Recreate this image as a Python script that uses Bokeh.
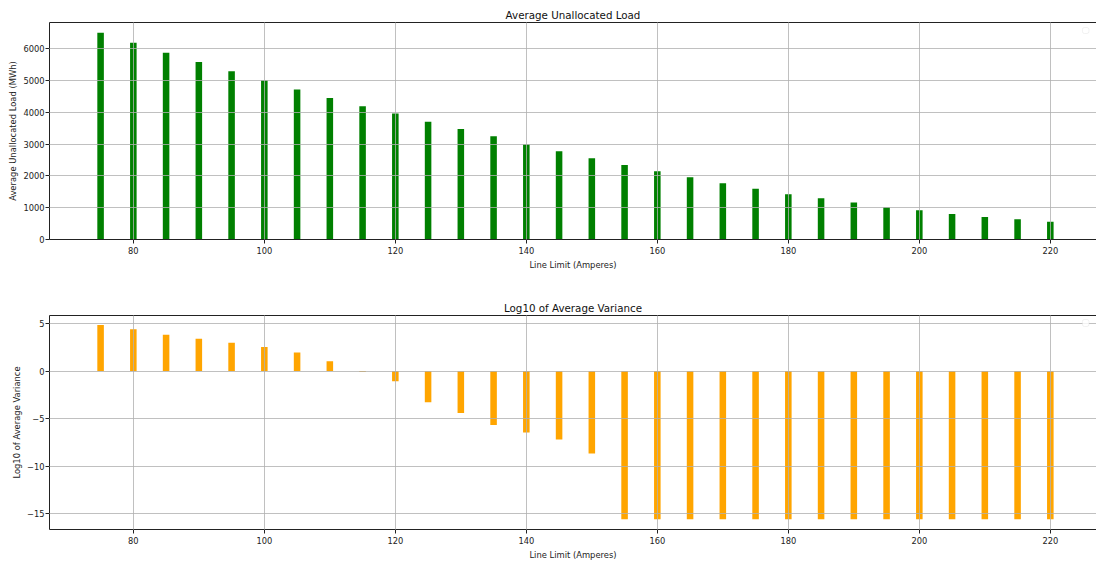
from bokeh.plotting import figure
from bokeh.layouts import column
from bokeh.models import Range1d, FixedTicker, LinearAxis, CustomJSTickFormatter, BoxAnnotation
from bokeh.embed import file_html
from bokeh.resources import INLINE

line_limits = [75, 80, 85, 90, 95, 100, 105, 110, 115, 120, 125, 130, 135, 140, 145,
               150, 155, 160, 165, 170, 175, 180, 185, 190, 195, 200, 205, 210, 215, 220]
avg_unallocated = [6500, 6190, 5875, 5580, 5290, 5005, 4720, 4450, 4190, 3960, 3705, 3475,
                   3245, 2995, 2775, 2555, 2345, 2145, 1960, 1770, 1600, 1425, 1300, 1160,
                   1015, 920, 805, 710, 640, 555]
log10_variance = [4.86, 4.41, 3.83, 3.41, 3.0, 2.55, 1.97, 1.03, -0.1, -1.07, -3.28, -4.41,
                  -5.69, -6.48, -7.2, -8.69, -15.62, -15.62, -15.62, -15.62, -15.62, -15.62,
                  -15.62, -15.62, -15.62, -15.62, -15.62, -15.62, -15.62, -15.62]
x_ticks = [80, 100, 120, 140, 160, 180, 200, 220]
top_yticks = [0, 1000, 2000, 3000, 4000, 5000, 6000]
bottom_yticks = [-15, -10, -5, 0, 5]

FONT = "DejaVu Sans"
TXT = "#222222"
minus_fmt = "return tick < 0 ? '\\u2212' + Math.abs(tick) : String(tick);"


def make_fig(height, top_border, bottom_border, title, ylabel, yr, yticks, values, color,
             legend_box):
    p = figure(width=1096, height=height,
               x_range=Range1d(67.2, 227.05), y_range=Range1d(*yr),
               output_backend="svg", toolbar_location=None,
               min_border_left=49, min_border_right=0,
               min_border_top=top_border, min_border_bottom=bottom_border,
               title=title)
    p.background_fill_color = "white"
    p.border_fill_color = "white"
    p.outline_line_color = None
    p.title.align = "center"
    p.title.offset = 3
    p.title.text_font = FONT
    p.title.text_font_size = "10.3px"
    p.title.text_font_style = "normal"
    p.title.text_color = "#111111"
    p.title.standoff = 4

    p.vbar(x=line_limits, top=values, bottom=0, width=1.0,
           fill_color=color, line_color=None)

    for ax in (p.xaxis, p.yaxis):
        ax.axis_line_color = TXT
        ax.axis_line_width = 1
        ax.major_tick_line_color = TXT
        ax.major_tick_in = 0
        ax.major_tick_out = 4
        ax.minor_tick_line_color = None
        ax.major_label_text_font = FONT
        ax.major_label_text_font_size = "8.3px"
        ax.major_label_text_color = TXT
        ax.axis_label_text_font = FONT
        ax.axis_label_text_font_size = "8.4px"
        ax.axis_label_text_font_style = "normal"
        ax.axis_label_text_color = TXT
    p.xaxis.major_label_standoff = 3
    p.yaxis.major_label_standoff = 1
    p.xaxis.ticker = FixedTicker(ticks=x_ticks)
    p.yaxis.ticker = FixedTicker(ticks=yticks)
    p.yaxis.formatter = CustomJSTickFormatter(code=minus_fmt)
    p.xaxis.axis_label = "Line Limit (Amperes)"
    p.yaxis.axis_label = ylabel
    p.xaxis.axis_label_standoff = 3
    p.yaxis.axis_label_standoff = 2

    top_ax = LinearAxis(ticker=FixedTicker(ticks=[]), axis_line_color=TXT,
                        major_tick_line_color=None, minor_tick_line_color=None)
    p.add_layout(top_ax, "above")

    for g in (p.xgrid, p.ygrid):
        g.grid_line_color = "#b0b0b0"
        g.grid_line_width = 0.8
        g.level = "guide"
    p.xgrid.ticker = FixedTicker(ticks=x_ticks)
    p.ygrid.ticker = FixedTicker(ticks=yticks)

    # empty legend frame (no labelled artists), clipped at the right edge
    l, r, b, t = legend_box
    p.add_layout(BoxAnnotation(left=l, right=r, bottom=b, top=t,
                               fill_color="white", fill_alpha=0.8,
                               line_color="#d4d4d4", line_width=1,
                               border_radius=2, level="overlay"))
    return p


p1 = make_fig(280, 22, 41, "Average Unallocated Load", "Average Unallocated Load (MWh)",
              (0, 6825), top_yticks, avg_unallocated, "green",
              (224.9, 225.9, 6479, 6668))
p2 = make_fig(282, 35, 32, "Log10 of Average Variance", "Log10 of Average Variance",
              (-16.69, 5.86), bottom_yticks, log10_variance, "orange",
              (224.9, 225.9, 4.70, 5.44))

layout = column(p1, p2, spacing=0)
open("out.html", "w").write(file_html(layout, INLINE))
